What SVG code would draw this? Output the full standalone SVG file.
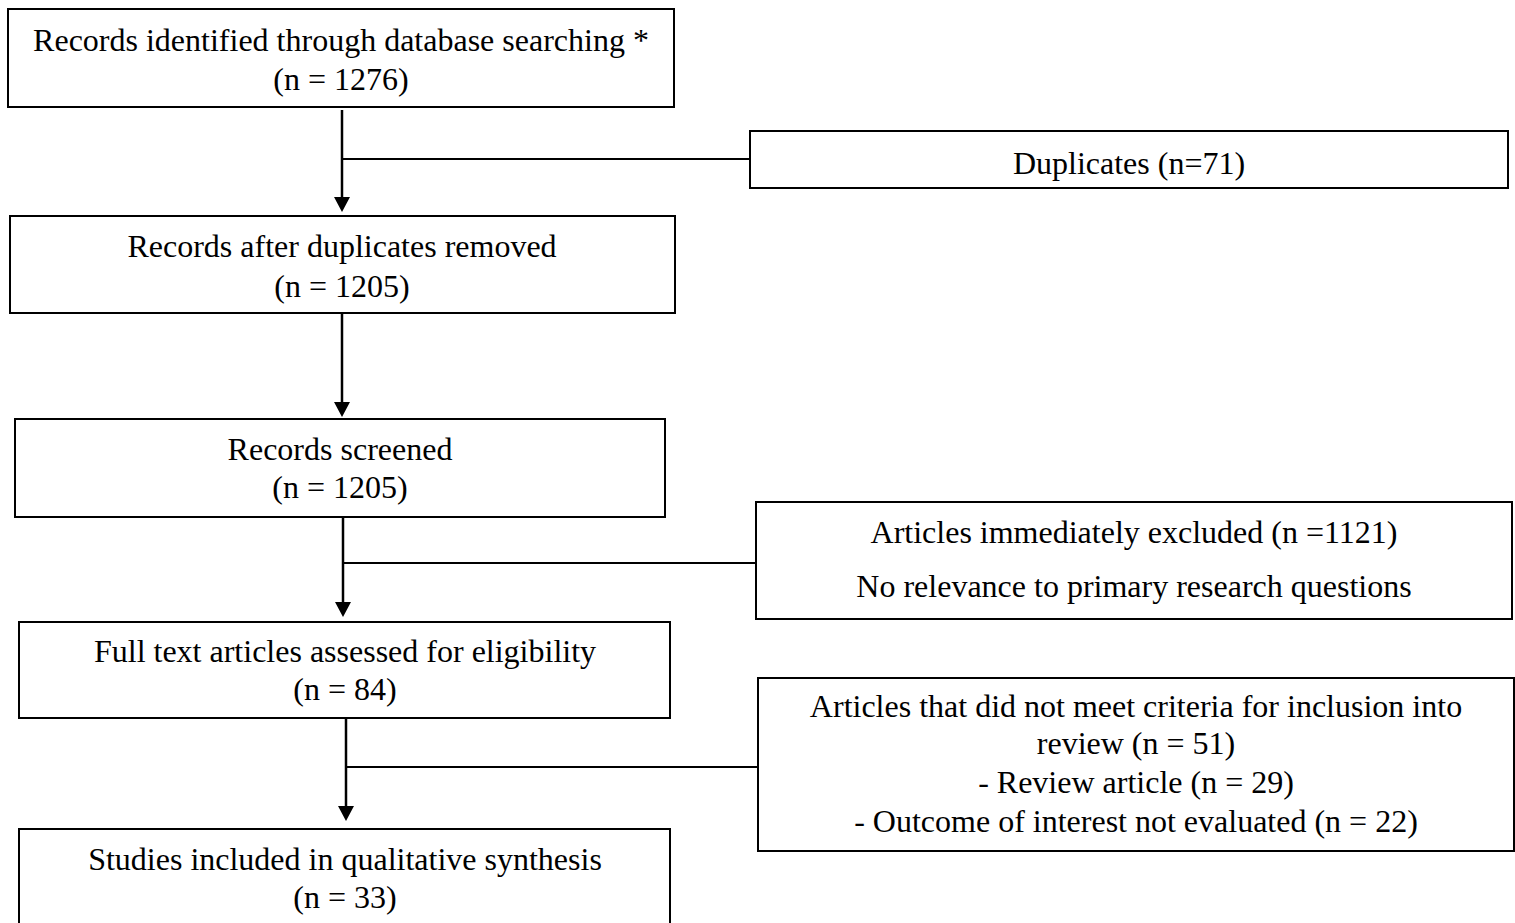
<svg xmlns="http://www.w3.org/2000/svg" width="1515" height="923" viewBox="0 0 1515 923">
<defs>
<style>
.box{fill:#fff;stroke:#000;stroke-width:2}
.t{font-family:"Liberation Serif","Times New Roman",serif;font-size:32px;fill:#000;text-anchor:middle}
.ln{stroke:#000;stroke-width:2;fill:none}
.sh{stroke:#000;stroke-width:2.5;fill:none}
.ah{fill:#000}
</style>
</defs>
<rect width="1515" height="923" fill="#fff"/>
<g id="connectors">
<path class="sh" d="M342,110 V198"/>
<path class="ah" d="M334,197 L350,197 L342,212 Z"/>
<line class="ln" x1="342" y1="159" x2="749" y2="159"/>
<path class="sh" d="M342,313 V403"/>
<path class="ah" d="M334,402 L350,402 L342,417 Z"/>
<path class="sh" d="M343,517 V603"/>
<path class="ah" d="M335,602 L351,602 L343,617 Z"/>
<line class="ln" x1="343" y1="563" x2="756" y2="563"/>
<path class="sh" d="M346,718 V807"/>
<path class="ah" d="M338,806 L354,806 L346,821 Z"/>
<line class="ln" x1="346" y1="767" x2="758" y2="767"/>
</g>
<g id="n1">
<rect class="box" x="8" y="9" width="666" height="98"/>
<text class="t" x="341" y="51">Records identified through database searching *</text>
<text class="t" x="341" y="90">(n = 1276)</text>
</g>
<g id="n2">
<rect class="box" x="750" y="131" width="758" height="57"/>
<text class="t" x="1129" y="174">Duplicates (n=71)</text>
</g>
<g id="n3">
<rect class="box" x="10" y="216" width="665" height="97"/>
<text class="t" x="342" y="257">Records after duplicates removed</text>
<text class="t" x="342" y="297">(n = 1205)</text>
</g>
<g id="n4">
<rect class="box" x="15" y="419" width="650" height="98"/>
<text class="t" x="340" y="460">Records screened</text>
<text class="t" x="340" y="498">(n = 1205)</text>
</g>
<g id="n5">
<rect class="box" x="756" y="502" width="756" height="117"/>
<text class="t" x="1134" y="543">Articles immediately excluded (n =1121)</text>
<text class="t" x="1134" y="597">No relevance to primary research questions</text>
</g>
<g id="n6">
<rect class="box" x="19" y="622" width="651" height="96"/>
<text class="t" x="345" y="662">Full text articles assessed for eligibility</text>
<text class="t" x="345" y="700">(n = 84)</text>
</g>
<g id="n7">
<rect class="box" x="758" y="678" width="756" height="173"/>
<text class="t" x="1136" y="717">Articles that did not meet criteria for inclusion into</text>
<text class="t" x="1136" y="754">review (n = 51)</text>
<text class="t" x="1136" y="793">- Review article (n = 29)</text>
<text class="t" x="1136" y="832">- Outcome of interest not evaluated (n = 22)</text>
</g>
<g id="n8">
<rect class="box" x="19" y="829" width="651" height="110"/>
<text class="t" x="345" y="870">Studies included in qualitative synthesis</text>
<text class="t" x="345" y="908">(n = 33)</text>
</g>
</svg>
